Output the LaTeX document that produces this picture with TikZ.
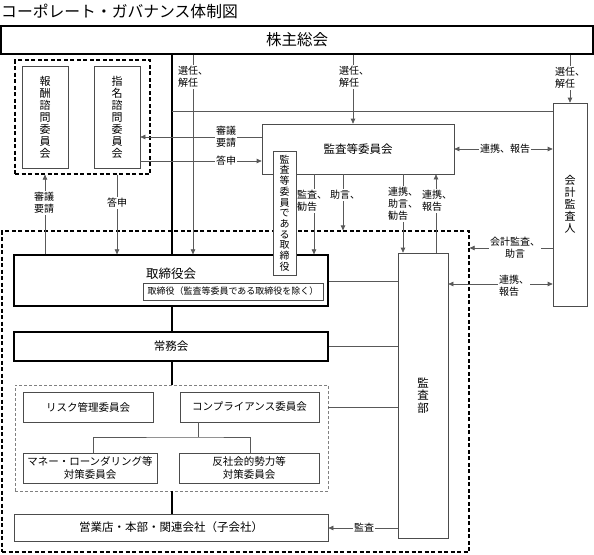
\documentclass[tikz,border=0pt]{standalone}
\usepackage{fontspec}
\setmainfont{Noto Sans CJK JP}
\usetikzlibrary{arrows.meta}
\tikzset{
  every node/.style={inner sep=0pt},
  thickbox/.style={draw=black,line width=1.3pt,fill=white},
  thinbox/.style={draw=black!70,line width=0.7pt,fill=white},
  bigdash/.style={draw=black,line width=1.2pt,dash pattern=on 4pt off 2.5pt},
  graydash/.style={draw=black!50,line width=0.7pt,dash pattern=on 3pt off 2pt},
  conn/.style={draw=black!65,line width=0.7pt},
  arr/.style={conn,-{Triangle[length=5pt,width=4.5pt]}},
  darr/.style={conn,{Triangle[length=5pt,width=4.5pt]}-{Triangle[length=5pt,width=4.5pt]}},
  trunk/.style={draw=black,line width=1.3pt},
  lbl/.style={fill=white,font=\fontsize{10}{12}\selectfont,inner sep=1pt},
  vt/.style={align=center,font=\fontsize{11}{12}\selectfont},
  mid/.style={font=\fontsize{10.5}{12.5}\selectfont,align=center},
}
\begin{document}
\begin{tikzpicture}[x=1pt,y=-1pt]
\useasboundingbox (0,0) rectangle (594,554);
\fill[white] (0,0) rectangle (594,554);

% column / row helpers
\coordinate (x45) at (45,0);
\coordinate (x93) at (93,0);
\coordinate (x117) at (117,0);
\coordinate (x172) at (172,0);
\coordinate (x193) at (193,0);
\coordinate (x250) at (250,0);
\coordinate (x314) at (314,0);
\coordinate (x343) at (343,0);
\coordinate (x353) at (353,0);
\coordinate (x403) at (403,0);
\coordinate (x436) at (436,0);
\coordinate (x570) at (570,0);
\coordinate (y111) at (0,111);
\coordinate (y137) at (0,137);
\coordinate (y149) at (0,149);
\coordinate (y161) at (0,161);
\coordinate (y248) at (0,248);
\coordinate (y281) at (0,281);
\coordinate (y284) at (0,284);
\coordinate (y346) at (0,346);
\coordinate (y407) at (0,407);
\coordinate (y528) at (0,528);
\coordinate (j) at (198,437);

% title
\node[anchor=west,font=\fontsize{15.8}{16}\selectfont] (title) at (1,11) {コーポレート・ガバナンス体制図};

% boxes
\node[thickbox,minimum width=592,minimum height=28,font=\fontsize{15.5}{16}\selectfont] (sh) at (297,40) {株主総会};
\node[bigdash,minimum width=135,minimum height=114] (adv) at (82.5,117) {};
\node[thinbox,minimum width=46,minimum height=102,vt] (housyu) at (45,117) {報\\酬\\諮\\問\\委\\員\\会};
\node[thinbox,minimum width=46,minimum height=102,vt] (shimei) at (117,117) {指\\名\\諮\\問\\委\\員\\会};
\node[thinbox,minimum width=192,minimum height=50,font=\fontsize{11.5}{12}\selectfont] (kansatou) at (358,149) {監査等委員会};
\node[thinbox,minimum width=34,minimum height=203,vt] (kaikei) at (570,204.5) {会\\計\\監\\査\\人};
\node[bigdash,minimum width=467,minimum height=321] (exec) at (235.5,391.5) {};
\node[thickbox,minimum width=314,minimum height=51] (torishimari) at (171,280.5) {};
\node[font=\fontsize{12.5}{13}\selectfont] (torititle) at (171,274) {取締役会};
\node[thinbox,minimum width=180,minimum height=17,font=\fontsize{9}{10}\selectfont] (sub) at (233,291.5) {取締役（監査等委員である取締役を除く）};
\node[thinbox,minimum width=50,minimum height=285,align=center,font=\fontsize{11.5}{12.5}\selectfont] (kansabu) at (423,395.5) {監\\査\\部};
\node[thickbox,minimum width=314,minimum height=29,font=\fontsize{11.5}{12}\selectfont] (joumu) at (171,346.5) {常務会};
\node[graydash,minimum width=313,minimum height=106] (gray) at (171.5,438) {};
\node[thinbox,minimum width=130,minimum height=30,mid] (risk) at (88,407) {リスク管理委員会};
\node[thinbox,minimum width=139,minimum height=30,mid] (compl) at (249.5,407) {コンプライアンス委員会};
\node[thinbox,minimum width=134,minimum height=30,mid] (money) at (90,468) {マネー・ローンダリング等\\対策委員会};
\node[thinbox,minimum width=140,minimum height=30,mid] (hansha) at (249,468) {反社会的勢力等\\対策委員会};
\node[thinbox,minimum width=314,minimum height=27,font=\fontsize{11.5}{12}\selectfont] (eigyou) at (171,527.5) {営業店・本部・関連会社（子会社）};

% trunk
\draw[trunk] (sh.south -| x172) -- (torishimari.north -| x172);
\draw[trunk] (torishimari.south -| x172) -- (joumu.north -| x172);
\draw[trunk] (joumu.south -| x172) -- (gray.north -| x172);
\draw[trunk] (gray.south -| x172) -- (eigyou.north -| x172);

% connectors
\draw[conn] (x172 |- y111) -- (kaikei.west |- y111);
\draw[arr] (sh.south -| x193) -- (torishimari.north -| x193);
\draw[arr] (sh.south -| x353) -- (kansatou.north -| x353);
\draw[arr] (sh.south -| x570) -- (kaikei.north -| x570);
\draw[arr] (kansatou.west |- y137) -- (shimei.east |- y137);
\draw[arr] (shimei.east |- y161) -- (kansatou.west |- y161);
\draw[arr] (torishimari.north -| x45) -- (adv.south -| x45);
\draw[arr] (adv.south -| x117) -- (torishimari.north -| x117);
\draw[arr] (kansatou.south -| x314) -- (torishimari.north -| x314);
\draw[arr] (kansatou.south -| x343) -- (exec.north -| x343);
\draw[arr] (kansatou.south -| x403) -- (kansabu.north -| x403);
\draw[arr] (kansabu.north -| x436) -- (kansatou.south -| x436);
\draw[darr] (kansatou.east |- y149) -- (kaikei.west |- y149);
\draw[arr] (kaikei.west |- y248) -- (exec.east |- y248);
\draw[darr] (kansabu.east |- y284) -- (kaikei.west |- y284);
\draw[conn] (torishimari.east |- y281) -- (kansabu.west |- y281);
\draw[conn] (joumu.east |- y346) -- (kansabu.west |- y346);
\draw[conn] (gray.east |- y407) -- (kansabu.west |- y407);
\draw[arr] (kansabu.west |- y528) -- (eigyou.east |- y528);
\draw[conn] (compl.south -| j) -- (j);
\draw[conn] (money.north -| x93) |- (j) -| (hansha.north -| x250);

% labels
\node[lbl,align=left] (l1) at (193,77) {選任、\\解任};
\node[lbl,align=left] (l2) at (354,77) {選任、\\解任};
\node[lbl,align=left] (l3) at (570,78) {選任、\\解任};
\node[lbl,align=left] (l4) at (226,137) {審議\\要請};
\node[lbl] (l5) at (226,161) {答申};
\node[lbl,align=left] (l6) at (44,203) {審議\\要請};
\node[lbl] (l7) at (117,203) {答申};
\node[lbl,align=left] (l8) at (312,201) {監査、\\勧告};
\node[lbl] (l9) at (345,195) {助言、};
\node[lbl,align=left] (l10) at (403,204) {連携、\\助言、\\勧告};
\node[lbl,align=left] (l11) at (437,201) {連携、\\報告};
\node[lbl] (l12) at (505,149) {連携、報告};
\node[lbl,align=center] (l13) at (515,248) {会計監査、\\助言};
\node[lbl,align=left] (l14) at (514,286) {連携、\\報告};
\node[lbl] (l15) at (364,528) {監査};

% vertical director box on top
\node[thinbox,minimum width=23,minimum height=124,align=center,font=\fontsize{10}{10.7}\selectfont] (tori) at (284.5,213) {監\\査\\等\\委\\員\\で\\あ\\る\\取\\締\\役};
\end{tikzpicture}
\end{document}
